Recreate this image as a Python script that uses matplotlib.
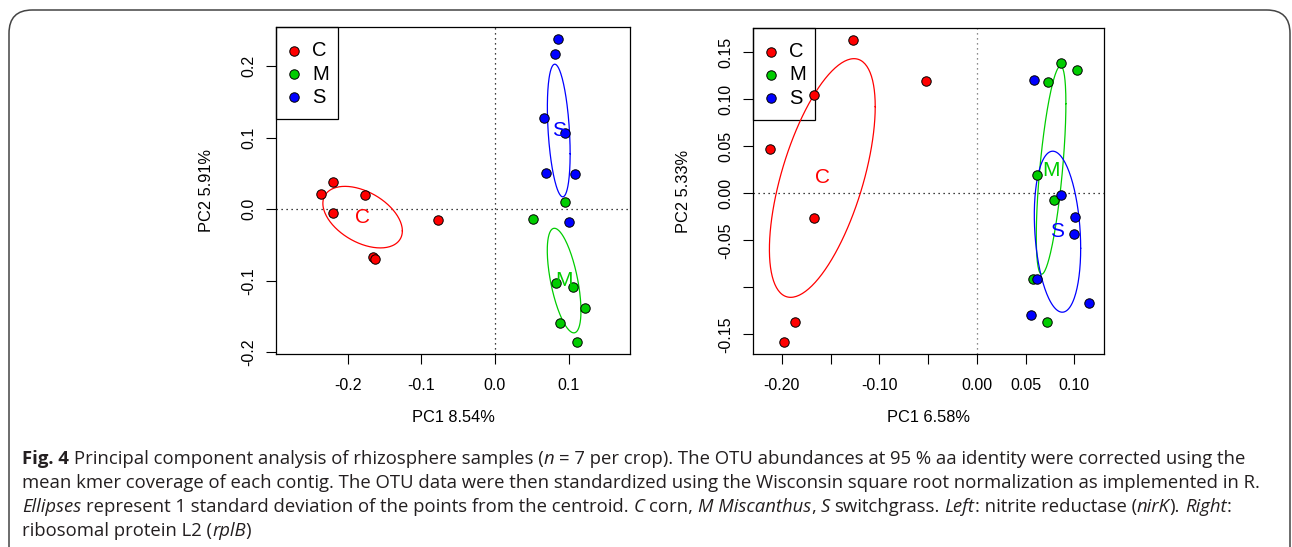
import numpy as np
import matplotlib
matplotlib.use('Agg')
import matplotlib.pyplot as plt
from matplotlib.patches import FancyBboxPatch, Rectangle

W, H, DPI = 1292, 547, 100

groups = ['C', 'M', 'S']
colors = {'C': '#FF0000', 'M': '#00CD00', 'S': '#0000FF'}

# ---- nirK (left panel) ----
nirk_C_x = [-0.236, -0.220, -0.177, -0.220, -0.165, -0.163, -0.077]
nirk_C_y = [0.022, 0.038, 0.020, -0.005, -0.067, -0.070, -0.015]
nirk_M_x = [0.095, 0.052, 0.083, 0.106, 0.122, 0.088, 0.111]
nirk_M_y = [0.010, -0.013, -0.103, -0.109, -0.138, -0.159, -0.186]
nirk_S_x = [0.086, 0.081, 0.067, 0.095, 0.069, 0.108, 0.100]
nirk_S_y = [0.238, 0.217, 0.127, 0.106, 0.051, 0.050, -0.018]

# ---- rplB (right panel) ----
rplb_C_x = [-0.127, -0.052, -0.167, -0.212, -0.167, -0.186, -0.198]
rplb_C_y = [0.163, 0.120, 0.105, 0.047, -0.026, -0.137, -0.158]
rplb_M_x = [0.086, 0.103, 0.073, 0.062, 0.079, 0.058, 0.072]
rplb_M_y = [0.139, 0.131, 0.118, 0.020, -0.007, -0.091, -0.137]
rplb_S_x = [0.059, 0.086, 0.101, 0.100, 0.062, 0.115, 0.056]
rplb_S_y = [0.121, -0.002, -0.025, -0.043, -0.091, -0.117, -0.129]

nirk_xticks = [-0.2, -0.1, 0.0, 0.1]
nirk_xlabels = ['-0.2', '-0.1', '0.0', '0.1']
nirk_yticks = [-0.2, -0.1, 0.0, 0.1, 0.2]
nirk_ylabels = ['-0.2', '-0.1', '0.0', '0.1', '0.2']
rplb_xticks = [-0.20, -0.15, -0.10, -0.05, 0.00, 0.05, 0.10]
rplb_xlabels = ['-0.20', '', '-0.10', '', '0.00', '0.05', '0.10']
rplb_yticks = [-0.15, -0.10, -0.05, 0.00, 0.05, 0.10, 0.15]
rplb_ylabels = ['-0.15', '', '-0.05', '0.00', '0.05', '0.10', '0.15']

nirk_xlab, nirk_ylab = 'PC1 8.54%', 'PC2 5.91%'
rplb_xlab, rplb_ylab = 'PC1 6.58%', 'PC2 5.33%'

caption_lines = [
    [("Fig. 4", 'bold', 'normal'), (" Principal component analysis of rhizosphere samples (", 'normal', 'normal'),
     ("n", 'normal', 'italic'), (" = 7 per crop). The OTU abundances at 95 % aa identity were corrected using the", 'normal', 'normal')],
    [("mean kmer coverage of each contig. The OTU data were then standardized using the Wisconsin square root normalization as implemented in R.", 'normal', 'normal')],
    [("Ellipses", 'normal', 'italic'), (" represent 1 standard deviation of the points from the centroid. ", 'normal', 'normal'),
     ("C", 'normal', 'italic'), (" corn, ", 'normal', 'normal'), ("M Miscanthus", 'normal', 'italic'), (", ", 'normal', 'normal'),
     ("S", 'normal', 'italic'), (" switchgrass. ", 'normal', 'normal'), ("Left", 'normal', 'italic'),
     (": nitrite reductase (", 'normal', 'normal'), ("nirK", 'normal', 'italic'), ("). ", 'normal', 'normal'),
     ("Right", 'normal', 'italic'), (":", 'normal', 'normal')],
    [("ribosomal protein L2 (", 'normal', 'normal'), ("rplB", 'normal', 'italic'), (")", 'normal', 'normal')],
]

plt.rcParams['font.family'] = ['Liberation Sans', 'DejaVu Sans']

fig = plt.figure(figsize=(W / DPI, H / DPI), dpi=DPI)


def ax_rect(x0, x1, y0, y1):
    return [x0 / W, 1 - y1 / H, (x1 - x0) / W, (y1 - y0) / H]


def sd_ellipse(x, y, n=200):
    x = np.asarray(x); y = np.asarray(y)
    c = np.array([x.mean(), y.mean()])
    cov = np.cov(np.vstack([x, y]), ddof=1)
    L = np.linalg.cholesky(cov)
    t = np.linspace(0, 2 * np.pi, n)
    pts = c[:, None] + L @ np.vstack([np.cos(t), np.sin(t)])
    return c, pts


def panel(rect, data, xlim, ylim, xt, xl, yt, yl, xlab, ylab, vcol, leg_w, leg_h):
    x0, x1, y0, y1 = rect
    aw, ah = x1 - x0, y1 - y0
    ax = fig.add_axes(ax_rect(*rect))
    ax.set_xlim(*xlim); ax.set_ylim(*ylim)
    ax.axhline(0, color='black', lw=0.9, ls=(0, (1, 3)), zorder=1)
    ax.axvline(0, color=vcol, lw=0.9, ls=(0, (1, 3)), zorder=1)
    for g in groups:
        x, y = data[g]
        c, pts = sd_ellipse(x, y)
        ax.plot(pts[0], pts[1], color=colors[g], lw=0.9, zorder=2)
        ax.plot(x, y, 'o', ms=6.8, mfc=colors[g], mec='black', mew=0.7, zorder=3)
        ax.text(c[0], c[1], g, color=colors[g], fontsize=15, ha='center', va='center', zorder=4)
    ax.set_xticks(xt); ax.set_xticklabels(xl, fontsize=11.5)
    ax.set_yticks(yt); ax.set_yticklabels(yl, fontsize=11.5, rotation=90, va='center')
    ax.tick_params(direction='out', length=7, width=0.8)
    ax.tick_params(axis='x', pad=10.5)
    ax.tick_params(axis='y', pad=7)
    for s in ax.spines.values():
        s.set_linewidth(0.9)
    # legend box (R style, top-left corner)
    ax.add_patch(Rectangle((0, 1 - leg_h / ah), leg_w / aw, leg_h / ah, transform=ax.transAxes,
                           fill=False, edgecolor='black', lw=0.9, zorder=1, clip_on=False))
    for i, g in enumerate(groups):
        yy = 1 - (23.7 + 23.3 * i) / ah
        ax.plot([18 / aw], [yy], 'o', transform=ax.transAxes, ms=6.8, mfc=colors[g], mec='black',
                mew=0.7, zorder=3, clip_on=False)
        ax.text(36 / aw, yy, g, transform=ax.transAxes, fontsize=14.5, ha='left', va='center', zorder=3)
    cx = (x0 + x1) / 2
    cy = (y0 + y1) / 2
    fig.text(cx / W, 1 - 417 / H, xlab, fontsize=11.8, ha='center', va='center')
    fig.text((x0 - 69.5) / W, 1 - cy / H, ylab, fontsize=11.8, ha='center', va='center', rotation=90)
    return ax


panel((276, 630, 27, 354),
      {'C': (nirk_C_x, nirk_C_y), 'M': (nirk_M_x, nirk_M_y), 'S': (nirk_S_x, nirk_S_y)},
      (-0.2973, 0.1833), (-0.2024, 0.2549),
      nirk_xticks, nirk_xlabels, nirk_yticks, nirk_ylabels, nirk_xlab, nirk_ylab, 'black', 62, 92)
panel((753, 1104, 28, 354),
      {'C': (rplb_C_x, rplb_C_y), 'M': (rplb_M_x, rplb_M_y), 'S': (rplb_S_x, rplb_S_y)},
      (-0.2295, 0.1304), (-0.171, 0.1759),
      rplb_xticks, rplb_xlabels, rplb_yticks, rplb_ylabels, rplb_xlab, rplb_ylab, '#666666', 62, 92)

# outer rounded border (open at bottom)
border = FancyBboxPatch((9 / W, -0.1), (1290 - 9) / W, (H - 10) / H + 0.1,
                        boxstyle='round,pad=0,rounding_size=0.018', transform=fig.transFigure,
                        fill=False, edgecolor='#444444', lw=1.1, mutation_aspect=W / H)
fig.patches.append(border)

# caption
renderer = fig.canvas.get_renderer()
cap_size = 13.3
cap_color = '#231F20'
cap_family = ['Open Sans', 'DejaVu Sans']


def tw(s, weight, style):
    t = fig.text(0, 0, s, fontsize=cap_size, fontweight=weight, fontstyle=style, family=cap_family)
    w = t.get_window_extent(renderer).width
    t.remove()
    return w


space_w = tw('x x', 'normal', 'normal') - tw('xx', 'normal', 'normal')
baselines = [464, 488, 512, 536]
for line, yb in zip(caption_lines, baselines):
    x = 22.0
    for s, weight, style in line:
        lead = len(s) - len(s.lstrip(' '))
        trail = len(s) - len(s.rstrip(' '))
        core = s.strip(' ')
        x += lead * space_w
        if core:
            t = fig.text(x / W, 1 - yb / H, core, fontsize=cap_size, fontweight=weight, fontstyle=style,
                         family=cap_family, color=cap_color, ha='left', va='baseline')
            x += t.get_window_extent(renderer).width
        x += trail * space_w

fig.savefig('out.png', dpi=DPI)
